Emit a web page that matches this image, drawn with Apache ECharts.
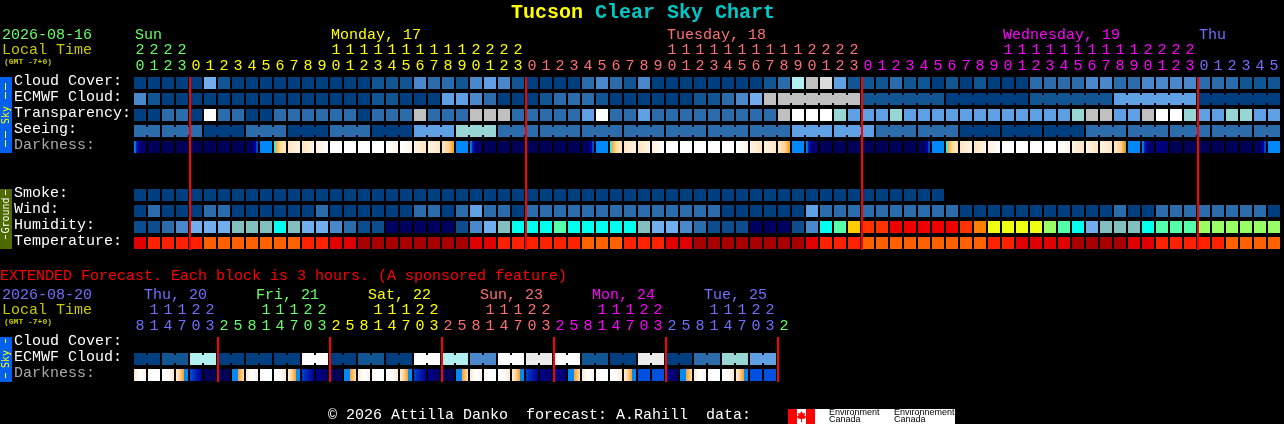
<!DOCTYPE html>
<html><head><meta charset="utf-8">
<style>html,body{margin:0;padding:0;background:#000;overflow:hidden}#c{width:1284px;height:424px}</style>
<script src="https://cdn.jsdelivr.net/npm/echarts@6/dist/echarts.min.js"></script>
</head><body><div id="c"></div>
<script>
// ---------- data ----------
const hours = [20,21,22,23,
  0,1,2,3,4,5,6,7,8,9,10,11,12,13,14,15,16,17,18,19,20,21,22,23,
  0,1,2,3,4,5,6,7,8,9,10,11,12,13,14,15,16,17,18,19,20,21,22,23,
  0,1,2,3,4,5,6,7,8,9,10,11,12,13,14,15,16,17,18,19,20,21,22,23,
  0,1,2,3,4,5];
const extHours = [8,11,14,17,20,23,
  2,5,8,11,14,17,20,23, 2,5,8,11,14,17,20,23, 2,5,8,11,14,17,20,23,
  2,5,8,11,14,17,20,23, 2,5,8,11,14,17,20,23, 2];
const mainDayLabels = [['Sun',0],['Monday, 17',14],['Tuesday, 18',38],['Wednesday, 19',62],['Thu',76]];
const extDayLabels = [['Thu, 20',0],['Fri, 21',8],['Sat, 22',16],['Sun, 23',24],['Mon, 24',32],['Tue, 25',40]];
const mainRows = ['Cloud Cover:','ECMWF Cloud:','Transparency:','Seeing:','Darkness:','','','Smoke:','Wind:','Humidity:','Temperature:'];
const extRows = ['Cloud Cover:','ECMWF Cloud:','Darkness:'];
const extDayStarts = [6,14,22,30,38,46];

const cloudCover = [0,0,0,0,0,5,1,0,0,0,0,0,0,0,0,0,0,1,1,1,3,2,2,1,3,4,3,1,0,0,0,0,2,3,2,1,3,0,0,0,0,0,0,0,0,1,2,7,8,9,4,1,
  1,1,2,1,1,0,1,0,1,0,0,0,2,2,2,2,3,3,2,2,3,3,3,3,2,2,2,1,1,1];
const ecmwfCloud = [3,1,0,0,0,0,0,0,0,0,0,0,0,0,0,0,0,1,1,0,0,0,4,4,3,2,0,0,0,1,2,2,2,1,0,0,0,0,0,0,1,1,2,3,5,8,8,8,8,8,8,8,
  1,1,1,1,1,1,0,0,0,0,0,0,1,1,1,1,1,1,4,4,4,4,4,4,0,0,0,0,0,0];
const transparency = [0,0,2,2,0,11,2,2,0,0,2,2,2,2,2,2,0,2,2,2,8,2,2,2,8,8,8,2,2,2,2,2,4,11,2,2,4,2,2,2,2,2,2,2,2,2,8,11,11,11,6,4,
  4,4,6,4,4,4,4,4,4,4,4,4,4,4,4,6,8,8,4,4,8,11,11,6,4,4,6,6,4,4];
const seeing = [2,2,2,2,2,0,0,0,2,2,2,0,0,0,2,2,2,0,0,0,4,4,4,6,6,6,2,2,2,2,2,2,2,2,2,2,2,2,2,2,2,2,2,2,2,2,2,4,4,4,4,4,4,
  2,2,2,2,2,2,0,0,0,0,0,0,0,0,0,2,2,2,2,2,2,2,2,2,2,2,2,2,2];
const darkness = ('a n n n n n n n u b r c c e w w w w f f d d s b '+
  'a n n n n n n n u b r c c e w w w w w f d d s b '+
  'a n n n n n n n u b r c c e w w w w f d d d g b '+
  'a o n n n n n n u b').split(' ');
const smoke = [0,0,0,0,0,0,0,0,0,0,0,0,0,0,0,0,0,0,0,0,0,0,0,0,0,0,0,0,0,0,0,0,0,0,0,0,0,0,0,0,0,0,0,0,0,0,0,0,0,0,0,0,0,0,0,0,0,0];
const wind = [0,2,0,0,0,2,2,0,0,0,0,0,0,2,0,0,0,0,0,0,2,2,0,2,4,2,2,0,2,2,2,2,2,2,2,2,2,2,2,2,2,2,0,0,0,0,0,0,4,2,2,2,
  2,2,2,2,2,2,2,0,0,0,0,0,0,0,0,0,0,0,2,0,0,2,2,2,2,2,2,2,2,0];
const humidity = [1,1,2,3,5,5,5,7,7,7,9,7,5,5,3,2,1,1,0,0,0,0,0,1,3,5,7,9,9,9,10,9,9,9,9,9,7,5,5,3,2,1,1,1,0,0,0,1,3,9,10,13,
  15,15,16,16,16,16,16,15,14,12,12,12,12,11,10,9,5,7,7,7,9,10,10,10,11,11,11,11,11,11];
const temperature = [1,2,2,2,2,3,3,3,3,3,3,3,2,2,1,1,0,0,0,0,0,0,0,0,1,1,2,2,2,2,2,2,3,3,3,2,2,2,1,1,0,0,0,0,0,0,0,0,1,2,2,2,
  3,3,3,3,3,3,3,3,3,2,2,1,1,1,1,0,0,0,0,1,1,2,2,2,2,2,3,3,3,3];
const extEcmwf = [0,0,1,1,7,7,0,0,0,0,0,0,11,11,0,0,1,1,0,0,11,11,7,7,3,3,11,11,10,10,11,11,1,1,0,0,10,10,0,0,2,2,6,6,4,4];
const extDarkness = 'C w D S A n n R C w D S H L n R C w D S H L n R C w D S H L o R C w D S M M L R C w D S M M'.split(' ');

// ---------- styles ----------
const skyPalette = ['#003f7f','#115593','#2c6cab','#4a88cb','#5f9fe3','#72aeee','#97d6d4','#b0f0f0','#c0c0c0','#dbdbdb','#ebebeb','#ffffff'];
const humidityPalette = ['#000060','#0d4d8d','#2c6cab','#4a88cb','#5f9fe3','#72aeee','#72aeee','#84bfc0','#84bfc0','#00ffee','#55ffaa','#99ff66','#eeff11','#ffcc00','#ff8000','#ff3300','#ee0000'];
const tempPalette = ['#a80000','#e00000','#ff2200','#ff6000'];
const stops = {
  n:[[0,'#000058'],[1,'#000058']], o:[[0,'#000088'],[1,'#000070']],
  a:[[0,'#0088f8'],[.12,'#0070e8'],[.17,'#0030b0'],[.35,'#0000a0'],[.6,'#000070'],[1,'#000060']],
  u:[[0,'#000058'],[.45,'#000060'],[.7,'#000090'],[.84,'#0000b0'],[.86,'#0040c0'],[1,'#0050d0']],
  b:[[0,'#0088f8'],[1,'#0088f8']],
  r:[[0,'#00ffff'],[.12,'#00ffff'],[.13,'#ffa020'],[.5,'#ffd898'],[1,'#ffe8c8']],
  c:[[0,'#ffe4c0'],[1,'#fff4e4']], e:[[0,'#fff0e0'],[1,'#ffffff']],
  w:[[0,'#ffffff'],[1,'#ffffff']], f:[[0,'#ffffff'],[1,'#fff4e8']],
  d:[[0,'#fff4e4'],[1,'#ffe4c0']],
  s:[[0,'#ffe8c8'],[.6,'#ffd090'],[.92,'#ffa020'],[1,'#ffa020']],
  g:[[0,'#ffe8c8'],[.6,'#ffd090'],[.85,'#ffa020'],[1,'#80b060']],
  C:[[0,'#ffe8c8'],[.4,'#ffffff'],[.6,'#ffffff'],[1,'#fff0e0']],
  D:[[0,'#ffffff'],[.55,'#ffffff'],[1,'#ffe4c0']],
  S:[[0,'#fff0e0'],[.35,'#ffd090'],[.64,'#ffa020'],[.65,'#0088f8'],[1,'#0088f8']],
  R:[[0,'#0088f8'],[.5,'#0088f8'],[.51,'#ffa020'],[1,'#ffe0b0']],
  A:[[0,'#0050e0'],[.5,'#0020b0'],[1,'#000090']],
  H:[[0,'#0040d0'],[1,'#000090']], L:[[0,'#000090'],[1,'#000060']],
  M:[[0,'#0050e0'],[1,'#0050e0']]
};
const darkFill = k => new echarts.graphic.LinearGradient(0,0,1,0,stops[k].map(s=>({offset:s[0],color:s[1]})));

const MONO = '"Liberation Mono", monospace';
const GREEN='#66ff66', YELLOW='#ffff00', SALMON='#ff7070', MAGENTA='#ff00ff', BLUE='#7070ff';
const mainColorAt = i => i<4?GREEN : i<28?YELLOW : i<52?SALMON : i<76?MAGENTA : BLUE;
const extColorAt = i => i<6?BLUE : i<14?GREEN : i<22?YELLOW : i<30?SALMON : i<38?MAGENTA : i<46?BLUE : GREEN;

function cellSeries(xi, yi, row, values, fillOf, joined){
  return {
    type:'custom', xAxisIndex:xi, yAxisIndex:yi, coordinateSystem:'cartesian2d', z:2,
    data: values.map((v,i)=>[i,row,i]),
    encode:{x:0,y:1},
    renderItem(p,api){
      const i=api.value(2), c=api.coord([api.value(0),api.value(1)]);
      const fill=fillOf(values[i]);
      const kids=[{type:'rect',shape:{x:c[0]-6,y:c[1]-6,width:12,height:12},style:{fill}}];
      if(joined&&joined(i)&&i+1<values.length)
        kids.push({type:'rect',shape:{x:c[0]+6,y:c[1]-4,width:2,height:8},style:{fill}});
      return {type:'group',children:kids};
    }
  };
}
function redLines(xi, yi, idx, lastRow){
  return {
    type:'custom', xAxisIndex:xi, yAxisIndex:yi, z:5, data:idx.map(i=>[i,0]),
    encode:{x:0,y:1},
    renderItem(p,api){
      const top=api.coord([api.value(0),0]), bot=api.coord([api.value(0),lastRow]);
      return {type:'rect',shape:{x:top[0]-7,y:top[1]-6,width:2,height:bot[1]-top[1]+13},style:{fill:'#ff0000'}};
    }
  };
}
const sky = v=>skyPalette[v];
const mod = (a,n)=>((a%n)+n)%n;
const seeingJoin = i=>mod(i-2,3)!==2;
const ecmwfJoin = i=>i>=46&&mod(i-46,6)!==5;
const extJoin = i=>i%2===0;
const midnights = hours.map((h,i)=>h===0?i:-1).filter(i=>i>=0);
const tens = h=>h>=10?String(Math.floor(h/10)):'';
const ones = h=>String(h%10);
const dayCats = (list,n)=>{const a=new Array(n).fill('');list.forEach(d=>a[d[1]]=d[0]);return a;};
function dayColor(name){ return /^Sun$|^Fri/.test(name)?GREEN : /^Monday|^Sat/.test(name)?YELLOW : /^Tuesday|^Sun,/.test(name)?SALMON : /^Wed|^Mon,/.test(name)?MAGENTA : BLUE; }

const digitAxis = (grid,data,offset,colorAt)=>({
  type:'category', gridIndex:grid, position:'top', offset, data,
  axisLine:{show:false}, axisTick:{show:false}, splitLine:{show:false},
  axisLabel:{interval:0, margin:1, fontFamily:MONO, fontSize:15, lineHeight:15, verticalAlign:'bottom',
    color:(v,i)=>colorAt(i)}
});
const dayAxis = (grid,data,offset,pad)=>({
  type:'category', gridIndex:grid, position:'top', offset, data, boundaryGap:false,
  axisLine:{show:false}, axisTick:{show:false}, splitLine:{show:false},
  axisLabel:{interval:0, margin:1, fontFamily:MONO, fontSize:15, lineHeight:15, verticalAlign:'bottom', align:'left',
    padding:[0,0,0,pad], color:(v)=>dayColor(v)}
});
const rowAxis = (grid,data)=>({
  type:'category', gridIndex:grid, inverse:true, data,
  axisLine:{show:false}, axisTick:{show:false}, splitLine:{show:false},
  axisLabel:{interval:0, margin:119, align:'left', fontFamily:MONO, fontSize:15, lineHeight:4, verticalAlign:'bottom',
    color:(v)=>v==='Darkness:'?'#aaaaaa':'#ffffff'}
});
const txt=(x,y,text,fill,size,extra)=>({type:'text',x,y,silent:true,z:10,style:Object.assign({text,fill,font:(size||15)+'px '+MONO,verticalAlign:'middle'},extra||{})});
const rectG=(x,y,width,height,fill,z)=>({type:'rect',shape:{x,y,width,height},style:{fill},z:z||10,silent:true});
const sideLabel=(y,text,fill,size)=>({type:'text',x:6,y,rotation:Math.PI/2,silent:true,z:10,
   style:{text,fill,font:(size||10)+'px "DejaVu Sans Mono"',align:'center',verticalAlign:'middle'}});

const option = {
  backgroundColor:'#000', animation:false,
  title:{left:506,top:-2,text:'{a|Tucson}{b| Clear Sky Chart}',textStyle:{rich:{
    a:{fontFamily:MONO,fontWeight:'bold',fontSize:20,color:'#ffff00'},
    b:{fontFamily:MONO,fontWeight:'bold',fontSize:20,color:'#00c8c8'}}}},
  grid:[{left:133,top:75,width:1148,height:176,containLabel:false,outerBoundsMode:'none'},
        {left:133,top:335,width:658,height:48,containLabel:false,outerBoundsMode:'none'}],
  xAxis:[
    digitAxis(0,hours.map(ones),0,mainColorAt),
    digitAxis(0,hours.map(tens),16,mainColorAt),
    dayAxis(0,dayCats(mainDayLabels,83),31,2),
    digitAxis(1,extHours.map(ones),0,extColorAt),
    digitAxis(1,extHours.map(tens),16,extColorAt),
    dayAxis(1,dayCats(extDayLabels,48),31,11)
  ],
  yAxis:[rowAxis(0,mainRows),rowAxis(1,extRows)],
  series:[
    cellSeries(0,0,0,cloudCover,sky),
    cellSeries(0,0,1,ecmwfCloud,sky,ecmwfJoin),
    cellSeries(0,0,2,transparency,sky),
    cellSeries(0,0,3,seeing,sky,seeingJoin),
    cellSeries(0,0,4,darkness,darkFill),
    cellSeries(0,0,7,smoke,sky),
    cellSeries(0,0,8,wind,sky),
    cellSeries(0,0,9,humidity,v=>humidityPalette[v]),
    cellSeries(0,0,10,temperature,v=>tempPalette[v]),
    cellSeries(3,1,1,extEcmwf,sky,extJoin),
    cellSeries(3,1,2,extDarkness,darkFill),
    redLines(0,0,midnights,10),
    redLines(3,1,extDayStarts,2)
  ],
  graphic:[
    txt(2,35,'2026-08-16',GREEN), txt(2,50,'Local Time','#c8c800'), txt(4,62,'(GMT -7+0)','#c8c800',8,{font:'bold 8px '+MONO}),
    txt(0,276,'EXTENDED Forecast. Each block is 3 hours. (A sponsored feature)','#ff0000'),
    txt(2,295,'2026-08-20',BLUE), txt(2,310,'Local Time','#c8c800'), txt(4,322,'(GMT -7+0)','#c8c800',8,{font:'bold 8px '+MONO}),
    txt(328,415,'\u00a9 2026 Attilla Danko  forecast: A.Rahill  data:','#ffffff'),
    rectG(0,77,12,76,'#0060f0',9),
    rectG(5,83,1,7,'#ffff00'), rectG(5,92,1,7,'#ffff00'), rectG(5,131,1,7,'#ffff00'), rectG(5,140,1,7,'#ffff00'),
    sideLabel(115,'Sky','#ffff00'),
    rectG(0,189,12,60,'#4f6a00',9),
    rectG(5,190,1,5,'#ffffff'), rectG(5,235,1,4,'#ffffff'),
    sideLabel(215.5,'Ground','#ffffff'),
    rectG(0,337,12,45,'#0060f0',9),
    rectG(5,339,1,4,'#ffff00'), rectG(5,373,1,5,'#ffff00'),
    sideLabel(359,'Sky','#ffff00'),
    rectG(788,409,167,15,'#ffffff',9),
    rectG(788,409,9,15,'#ff0000'), rectG(806,409,9,15,'#ff0000'),
    {type:'polygon',shape:{points:[[801.5,411],[803,413.5],[805,413],[804.5,416],[806,416],[805,418.5],[802,419],[802,422],[801,422],[801,419],[798,418.5],[797,416],[798.5,416],[798,413],[800,413.5]]},style:{fill:'#ff0000'},z:11,silent:true},
    txt(829,413,'Environment','#000000',9,{font:'9px "Liberation Sans"'}),
    txt(829,420,'Canada','#000000',9,{font:'9px "Liberation Sans"'}),
    txt(894,413,'Environnement','#000000',9,{font:'9px "Liberation Sans"'}),
    txt(894,420,'Canada','#000000',9,{font:'9px "Liberation Sans"'})
  ]
};
const chart = echarts.init(document.getElementById('c'),null,{renderer:'canvas',width:1284,height:424});
chart.setOption(option);
</script></body></html>
